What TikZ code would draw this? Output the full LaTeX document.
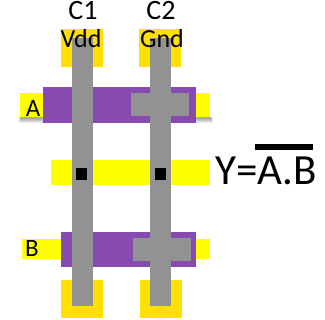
\documentclass[tikz,border=0pt]{standalone}
\usepackage{fontspec}
\setmainfont{Carlito}
\definecolor{metal}{HTML}{FFFF00}
\definecolor{pad}{HTML}{FFE000}
\definecolor{poly}{HTML}{874AAE}
\definecolor{wire}{HTML}{929292}
\tikzset{
  metalbar/.style={fill=metal,draw=none},
  padbox/.style={fill=pad,draw=none},
  polybar/.style={fill=poly,draw=none},
  wirebar/.style={fill=wire,draw=none},
  contact/.style={fill=black,draw=none},
  softshadow/.style={fill=black,draw=none,fill opacity=0.08},
  lblhead/.style={inner sep=0pt,text=black,font=\fontsize{28}{28}\selectfont},
  lbl/.style={inner sep=0pt,text=black,font=\fontsize{26}{26}\selectfont},
  lblsmall/.style={inner sep=0pt,text=black,font=\fontsize{25}{25}\selectfont},
  formula/.style={inner sep=0pt,text=black,font=\fontsize{43}{43}\selectfont}
}
\begin{document}
\begin{tikzpicture}[x=1pt,y=-1pt]
\useasboundingbox (0,0) rectangle (325,320);
% pads
\fill[padbox] (61,29) rectangle (103,67);
\fill[padbox] (139,29) rectangle (181,67);
\fill[padbox] (61,280) rectangle (103,318);
\fill[padbox] (140,280) rectangle (182,318);
% shadow under A bar
\fill[softshadow] (21,117) rectangle (211,119);
\fill[softshadow] (20,117) rectangle (211,120);
\fill[softshadow] (20,117) rectangle (212,121);
\fill[softshadow] (19,117) rectangle (212,122);
\fill[softshadow] (19,117) rectangle (213,123);
% metal bars
\fill[metalbar] (20,93) rectangle (210,117);
\fill[metalbar] (51,160) rectangle (210,185);
\fill[metalbar] (22,239) rectangle (210,259);
% poly
\fill[polybar] (43,87) rectangle (196,123);
\fill[polybar] (61,232) rectangle (196,267);
% wires
\fill[wirebar] (72,38) rectangle (93,306);
\fill[wirebar] (150,38) rectangle (171,306);
\fill[wirebar] (131,93) rectangle (189,116);
\fill[wirebar] (133,238) rectangle (191,261);
% contacts
\fill[contact] (76,168) rectangle (87,180);
\fill[contact] (155,168) rectangle (166,180);
% labels
\node[lblhead] (c1) at (83,11) {C1};
\node[lblhead] (c2) at (161,11) {C2};
\node[lbl] (vdd) at (81,39) {Vdd};
\node[lbl] (gnd) at (162,39) {Gnd};
\node[lblsmall] (a) at (33,108) {A};
\node[lblsmall] (b) at (32,248) {B};
\node[formula,anchor=west] (y) at (215,171) {Y=A.B};
\fill[black] (255,144) rectangle (313,150);
\end{tikzpicture}
\end{document}
